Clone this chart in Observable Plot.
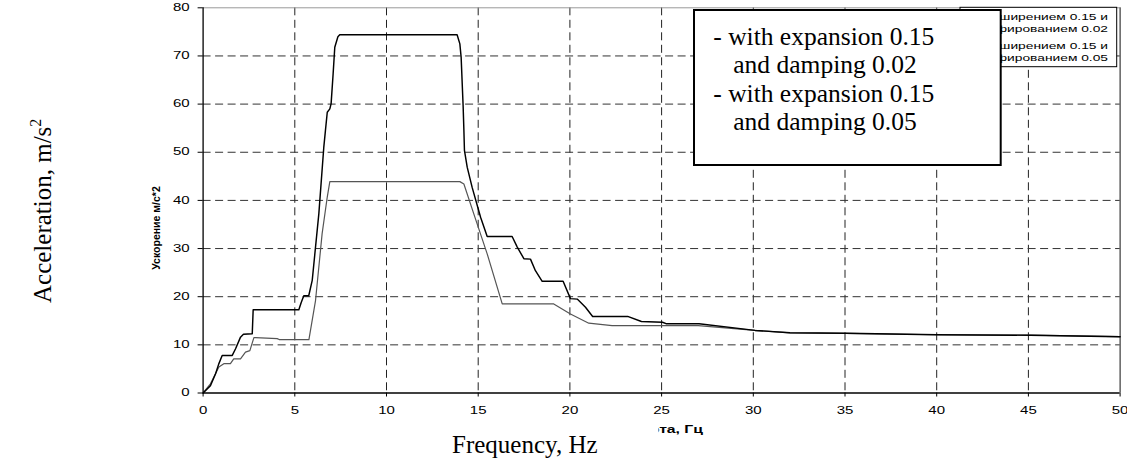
<!DOCTYPE html>
<html><head><meta charset="utf-8">
<script src="https://cdn.jsdelivr.net/npm/d3@7"></script>
<script src="https://cdn.jsdelivr.net/npm/@observablehq/plot@0.6"></script>
<style>body{margin:0;background:#fff} svg{display:block}</style>
</head><body><div id="chart"></div>
<script>
// Spectrum with expansion 0.15 and damping 0.02 (black)
const freq002 = [0,0.4,0.68,0.85,1.04,1.59,1.77,2.04,2.2,2.68,2.73,5.22,5.35,5.49,5.76,5.95,6.31,6.58,6.67,6.77,6.91,6.98,7.09,7.18,7.35,7.45,13.85,14.0,14.07,14.18,14.22,14.25,14.4,14.67,15.13,15.49,16.85,17.13,17.49,17.85,18.12,18.49,19.63,20.03,20.4,20.85,21.24,23.15,23.9,25.05,25.24,27.04,30.09,32.0,35.03,40.0,45.1,50];
const acc002  = [0,1.5,4,6,7.8,7.8,9.2,11.6,12.2,12.3,17.3,17.3,18.8,20.2,20.2,23.4,37.2,51,54.5,58.3,59,60.1,66.3,71.8,74.0,74.4,74.4,72.5,69.7,59.4,54.5,50.4,46.9,42.7,36.5,32.5,32.5,30.3,27.9,27.8,25.4,23.2,23.2,19.6,19.5,17.8,15.9,15.9,14.85,14.7,14.4,14.4,13.0,12.5,12.4,12.1,12.0,11.7];
// Spectrum with expansion 0.15 and damping 0.05 (grey)
const freq005 = [0,0.4,0.86,1.13,1.49,1.67,2.04,2.31,2.55,2.77,2.86,4.04,4.15,5.77,6.13,6.49,6.77,6.91,14.0,14.22,14.76,15.49,16.31,19.12,20.03,21.03,22.3,27.0,30.09,32.0,35.03,40.0,45.1,50];
const acc005  = [0,1.9,5.4,6.1,6.1,7.1,7.1,8.5,8.8,11.5,11.5,11.3,11.1,11.1,19.2,33.1,40.7,43.9,43.9,43.4,37.2,28.9,18.5,18.5,16.4,14.5,14.0,14.0,13.0,12.5,12.4,12.1,12.0,11.7];

const xTicks = [0,5,10,15,20,25,30,35,40,45,50];
const yTicks = [0,10,20,30,40,50,60,70,80];

const legendEn = ["- with expansion 0.15","and damping 0.02","- with expansion 0.15","and damping 0.05"];
const legendRu = ["с расширением 0.15 и","демпфированием 0.02","с расширением 0.15 и","демпфированием 0.05"];
const xLabelRu = "Частота, Гц";
const yLabelRu = "Ускорение м/с*2";
const xLabelEn = "Frequency, Hz";
const yLabelEn = "Acceleration, m/s";
const yLabelEnSup = "2";

const s002 = freq002.map((f, i) => ({f, a: acc002[i]}));
const s005 = freq005.map((f, i) => ({f, a: acc005[i]}));

const chart = Plot.plot({
  width: 1127, height: 466,
  marginLeft: 202.6, marginRight: 7.4, marginTop: 7.3, marginBottom: 73.5,
  x: {domain: [0, 50]},
  y: {domain: [0, 80]},
  style: {fontFamily: "'Liberation Sans', Arial, sans-serif", fontSize: "10px", background: "#fff", color: "#000", overflow: "visible"},
  marks: [
    Plot.ruleX(xTicks.filter(d => d > 0 && d < 50), {stroke: "#222", strokeDasharray: "8,4.5", strokeWidth: 1}),
    Plot.ruleY(yTicks.filter(d => d > 0 && d < 80), {stroke: "#333", strokeDasharray: "8,4.5", strokeWidth: 1}),
    Plot.ruleY([80], {stroke: "#999", strokeWidth: 1}),
    Plot.ruleX([50], {stroke: "#111", strokeWidth: 1}),
    Plot.line(s005, {x: "f", y: "a", stroke: "#555", strokeWidth: 1.2}),
    Plot.line(s002, {x: "f", y: "a", stroke: "#000", strokeWidth: 1.45}),
    Plot.ruleX([0], {stroke: "#000", strokeWidth: 1.3}),
    Plot.ruleY([0], {stroke: "#000", strokeWidth: 1.3}),
    Plot.axisX({ticks: xTicks, tickSize: 4, tickPadding: 10, label: null, tickFormat: d => String(d)}),
    Plot.axisY({ticks: yTicks, tickSize: 5, tickPadding: 8.5, label: null, tickFormat: d => String(d)})
  ]
});
document.getElementById("chart").append(chart);

const svg = d3.select(chart);
function stretch(sel, k) {
  sel.each(function () {
    const L = this.getComputedTextLength();
    this.setAttribute("textLength", (L * k).toFixed(2));
    this.setAttribute("lengthAdjust", "spacingAndGlyphs");
  });
}
stretch(svg.selectAll("text"), 1.5);

const sans = "'Liberation Sans', Arial, sans-serif";
const serif = "'Liberation Serif', 'Times New Roman', serif";

// original Russian axis titles
svg.append("text").attr("transform", "translate(159.5,228) rotate(-90)")
  .attr("text-anchor", "middle").attr("font-family", sans).attr("font-weight", "bold")
  .attr("font-size", 10.5).attr("fill", "#000").text(yLabelRu);
const xr = svg.append("text").attr("x", 703).attr("y", 433).attr("text-anchor", "end")
  .attr("font-family", sans).attr("font-weight", "bold").attr("font-size", 10.5).attr("fill", "#000").text(xLabelRu);
stretch(xr, 1.5);

// English overlays
svg.append("rect").attr("x", 400).attr("y", 418).attr("width", 258.5).attr("height", 48).attr("fill", "#fff");
svg.append("text").attr("x", 452).attr("y", 453).attr("text-anchor", "start").attr("font-family", serif)
  .attr("font-size", 25).attr("fill", "#000").text(xLabelEn);
const ya = svg.append("text").attr("transform", "translate(51,303) rotate(-90)").attr("text-anchor", "start")
  .attr("font-family", serif).attr("font-size", 25).attr("fill", "#000");
ya.append("tspan").text(yLabelEn);
ya.append("tspan").attr("font-size", 16).attr("dy", -10).text(yLabelEnSup);

// original small legend (partly hidden)
svg.append("rect").attr("x", 960).attr("y", 7.3).attr("width", 156.7).attr("height", 59.4)
  .attr("fill", "#fff").attr("stroke", "#000").attr("stroke-width", 1);
const ruBase = [19.5, 32, 49, 60.5];
legendRu.forEach((t, i) => {
  const el = svg.append("text").attr("x", 1108).attr("y", ruBase[i]).attr("text-anchor", "end")
    .attr("font-family", sans).attr("font-size", 8.5).attr("fill", "#000").text(t);
  stretch(el, 1.62);
});

// English legend box
svg.append("rect").attr("x", 694).attr("y", 10).attr("width", 306.7).attr("height", 155)
  .attr("fill", "#fff").attr("stroke", "#000").attr("stroke-width", 2);
const enX = [713.3, 733.3, 713.3, 733.3];
const enBase = [44.5, 73, 101.5, 130];
legendEn.forEach((t, i) => {
  svg.append("text").attr("x", enX[i]).attr("y", enBase[i]).attr("text-anchor", "start").attr("font-family", serif)
    .attr("font-size", 25.5).attr("fill", "#000").text(t);
});
</script>
</body></html>
